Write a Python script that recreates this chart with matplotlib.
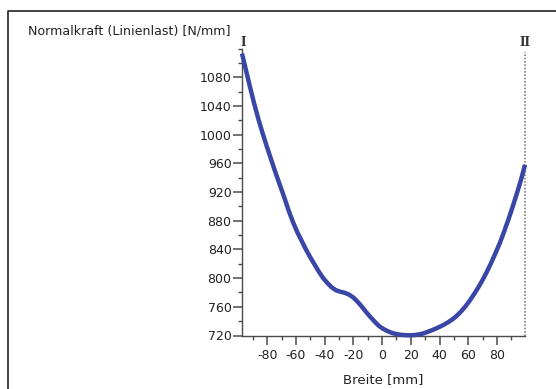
import matplotlib
matplotlib.use("Agg")
import matplotlib.pyplot as plt
from matplotlib.lines import Line2D
from matplotlib.ticker import MultipleLocator

plt.rcParams["axes.unicode_minus"] = False

# Data
breite_mm = [-97.5, -95, -92, -89, -86, -83, -80, -77, -74, -71, -68, -65, -62, -59, -56,
             -53, -50, -47, -44, -41, -38, -35, -32, -29, -26, -23, -20, -17, -14, -11,
             -8, -5, -2, 1, 4, 7, 10, 13, 16, 19, 22, 25, 28, 31, 34, 37, 40, 43, 46, 49,
             52, 55, 58, 61, 64, 67, 70, 73, 76, 79, 82, 85, 88, 91, 94, 97, 99.5]
normalkraft = [1113, 1092, 1067, 1043, 1021, 1001, 982, 964, 946, 929, 912, 894, 878, 864,
               852, 840, 829, 819, 809, 800, 793, 787, 783, 781, 779.5, 777, 773, 767, 760,
               752.5, 745.5, 739, 733, 729, 726, 723.5, 722, 721, 720.5, 720.3, 720.5, 721.3,
               722.5, 724.5, 726.8, 729.3, 732, 735, 738.5, 742.5, 747.5, 753.5, 760.5,
               768.5, 777.5, 787, 797.5, 809, 821.5, 835, 849, 865, 882, 900, 919, 939, 958]
y_ticks = [720, 760, 800, 840, 880, 920, 960, 1000, 1040, 1080]
x_ticks = [-80, -60, -40, -20, 0, 20, 40, 60, 80]
title_text = "Normalkraft (Linienlast) [N/mm]"
xlabel_text = "Breite [mm]"

W, H = 556, 389
fig = plt.figure(figsize=(W / 100, H / 100), dpi=100)
fig.patch.set_facecolor("white")

# outer frame (top and left edges visible)
fig.add_artist(Line2D([8 / W, 8 / W, 1.0], [0.0, 1 - 11 / H, 1 - 11 / H],
                      transform=fig.transFigure, color="#222222", lw=1.2))

left, right, bottom, top = 242, 525, 335.5, 48.5
ax = fig.add_axes([left / W, 1 - bottom / H, (right - left) / W, (bottom - top) / H])
ax.set_xlim(-97.5, 99.5)
ax.set_ylim(720, 1120)

axis_col = "#4a4a4a"
ax.plot(breite_mm, normalkraft, color="#3a46a6", lw=3.2, solid_joinstyle="round",
        solid_capstyle="butt", clip_on=False, zorder=3)

for s in ["top", "right"]:
    ax.spines[s].set_visible(False)
for s in ["left", "bottom"]:
    ax.spines[s].set_color(axis_col)
    ax.spines[s].set_linewidth(1.0)

ax.set_yticks(y_ticks)
ax.set_xticks(x_ticks)
ax.xaxis.set_minor_locator(MultipleLocator(10))
ax.yaxis.set_minor_locator(MultipleLocator(20))
ax.tick_params(axis="both", which="major", direction="out", length=6.5, width=1.1,
               color=axis_col, labelsize=9, labelcolor="#222222")
ax.tick_params(axis="y", which="major", pad=1.0)
ax.tick_params(axis="x", which="major", pad=3.5)
ax.tick_params(axis="both", which="minor", direction="out", length=3.2, width=1.0,
               color=axis_col)

# right dotted boundary line with marker II
ax.plot([99.5, 99.5], [720, 1115], color="#808080", lw=1.2, ls=(0, (1, 1)),
        clip_on=False, zorder=2)
ax.text(99.5, 1120, "II", ha="center", va="bottom", fontsize=8.5,
        family="DejaVu Serif", fontweight="bold", color="#333333")
ax.text(-96.5, 1120, "I", ha="center", va="bottom", fontsize=8.5,
        family="DejaVu Serif", fontweight="bold", color="#333333")

fig.text(28 / W, 1 - 31 / H, title_text, ha="left", va="center", fontsize=9.1,
         color="#222222")
fig.text(383 / W, 1 - 380 / H, xlabel_text, ha="center", va="center", fontsize=9.5,
         color="#222222")

fig.savefig("out.png", dpi=100, facecolor="white")
